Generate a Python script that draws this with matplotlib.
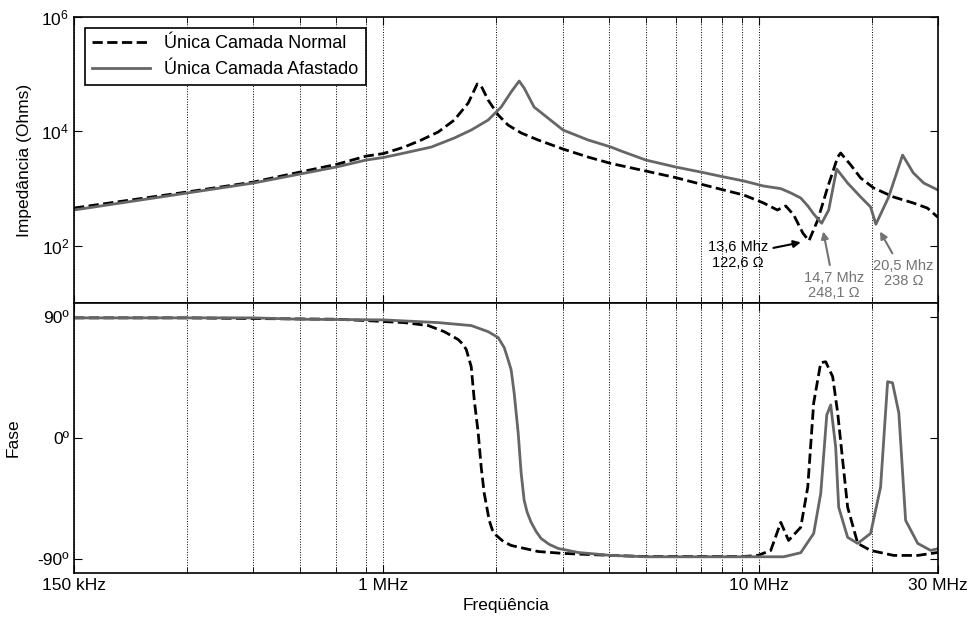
import numpy as np
import matplotlib
matplotlib.use('Agg')
import matplotlib.pyplot as plt
from matplotlib.ticker import FixedLocator, NullFormatter

plt.rcParams['font.family'] = ['Liberation Sans', 'DejaVu Sans']
plt.rcParams['mathtext.default'] = 'regular'

# frequencies in MHz, impedance in Ohms, phase in degrees
freq_normal = [0.15, 0.3, 0.45, 0.6, 0.75, 0.9, 1.0, 1.137, 1.262, 1.40, 1.545, 1.683,
               1.778, 1.822, 1.901, 2.022, 2.149, 2.328, 2.583, 3.01, 3.51, 4.04, 5.0,
               6.0, 7.0, 8.07, 9.12, 10.3, 11.2, 11.8, 12.39, 13.1, 13.6, 14.35, 15.26,
               16.22, 16.52, 17.57, 18.68, 20.23, 22.86, 25.8, 28.1, 30.0]
z_normal = [458, 873, 1300, 1950, 2650, 3700, 4100, 5330, 7080, 9770, 15800, 31400,
            67500, 62200, 35400, 19400, 12900, 9400, 7080, 4920, 3560, 2750, 2030,
            1560, 1200, 945, 773, 560, 423, 497, 345, 167, 122.6, 282, 1065,
            3560, 4190, 2590, 1530, 1025, 713, 560, 458, 315]

freq_afast = [0.15, 0.3, 0.45, 0.6, 0.75, 0.9, 1.0, 1.137, 1.342, 1.545, 1.714, 1.901,
              2.06, 2.189, 2.30, 2.371, 2.52, 2.745, 3.01, 3.51, 4.04, 4.30, 5.0, 6.0,
              7.0, 8.07, 9.12, 10.3, 11.44, 12.17, 12.93, 13.5, 14.0, 14.7, 15.35,
              16.12, 17.24, 18.68, 19.85, 20.5, 22.17, 24.15, 25.8, 27.5, 30.0]
z_afast = [423, 838, 1250, 1800, 2390, 3160, 3500, 4190, 5330, 7670, 10570, 15800,
           26700, 48900, 76000, 57400, 26700, 17100, 10570, 7080, 5330, 4540, 3160, 2390,
           1950, 1600, 1360, 1110, 1000, 840, 685, 500, 360, 248.1, 423,
           2200, 1250, 713, 477, 238, 713, 3860, 1875, 1250, 945]

fph_normal = [0.15, 0.3, 0.45, 0.75, 0.9, 1.0, 1.137, 1.317, 1.452, 1.516, 1.583, 1.632,
              1.663, 1.714, 1.746, 1.789, 1.822, 1.856, 1.914, 1.95, 1.998, 2.085, 2.189,
              2.583, 3.01, 4.04, 5.0, 7.0, 9.12, 9.94, 10.76, 11.44, 12.0, 12.93, 13.5,
              14.0, 14.62, 15.07, 15.73, 16.22, 16.72, 17.24, 18.34, 19.85, 22.86, 26.5,
              30.0]
ph_normal = [89, 89, 88.5, 88, 87, 86.3, 85.5, 83.3, 78.8, 75.9, 72.9, 69.2,
             65.5, 52.8, 28.3, 3.7, -21.6, -40.9, -61.0, -68.0, -72.1, -76.6, -79.6,
             -84.1, -85.5, -87.0, -87.8, -87.8, -87.8, -87.0, -83.3, -62.5, -75.9, -66.2,
             -36.4, 26.0, 55.8, 56.5, 45.4, 18.6, -16.4, -51.3, -78.1, -83.3, -87.0,
             -87.0, -84.8]

fph_afast = [0.15, 0.45, 0.6, 1.0, 1.4, 1.714, 1.901, 1.961, 2.022, 2.099, 2.136, 2.189,
             2.23, 2.286, 2.328, 2.371, 2.415, 2.475, 2.551, 2.63, 2.765, 2.92, 3.30,
             4.04, 5.0, 8.0, 11.65, 12.93, 14.0, 14.62, 15.17, 15.54, 16.02, 16.32,
             17.24, 18.34, 19.85, 21.1, 22.03, 22.7, 23.6, 24.6, 26.5, 28.7, 30.0]
ph_afast = [89, 89, 88, 87.5, 85.5, 83.3, 78.8, 76.6, 74.4, 66.9, 60.3, 50.6,
            33.5, 3.7, -26.0, -46.1, -55.0, -62.5, -69.2, -74.4, -78.8, -81.8, -84.8,
            -87.0, -88, -88, -88, -85, -70.7, -41, 17.1, 24.5, -6.7, -51.3,
            -73.6, -78.1, -70.7, -36.4, 41.7, 40.9, 18.6, -61, -78.1, -83.3, -82]

labels = ['Única Camada Normal', 'Única Camada Afastado']
xtick_pos = [150e3, 1e6, 10e6, 30e6]
xtick_labels = ['150 kHz', '1 MHz', '10 MHz', '30 MHz']
minor_pos = [300e3, 450e3, 600e3, 750e3, 900e3, 2e6, 3e6, 4e6, 5e6, 6e6, 7e6, 8e6, 9e6, 20e6]

gray = '#666666'
agray = '#737373'

fig = plt.figure(figsize=(9.74, 6.23), dpi=100)
ax1 = fig.add_axes([0.076, 0.5136, 0.887, 0.4591])
ax2 = fig.add_axes([0.076, 0.0803, 0.887, 0.4333], sharex=ax1)

mhz = lambda v: np.array(v) * 1e6

ax1.loglog(mhz(freq_normal), z_normal, 'k--', lw=2, label=labels[0])
ax1.loglog(mhz(freq_afast), z_afast, '-', color=gray, lw=2, label=labels[1])
ax2.semilogx(mhz(fph_normal), ph_normal, 'k--', lw=2)
ax2.semilogx(mhz(fph_afast), ph_afast, '-', color=gray, lw=2)

ax1.set_ylim(1e1, 1e6)
ax1.set_yticks([1e2, 1e4, 1e6])
ax1.yaxis.set_minor_locator(FixedLocator([]))
ax2.set_ylim(-100, 100)
ax2.set_yticks([-90, 0, 90])
ax2.set_yticklabels(['-90º', '0º', '90º'])
ax2.set_xlim(150e3, 30e6)
ax2.set_xticks(xtick_pos)
ax2.set_xticklabels(xtick_labels)
ax2.xaxis.set_minor_locator(FixedLocator(minor_pos))
ax2.xaxis.set_minor_formatter(NullFormatter())

for ax in (ax1, ax2):
    ax.tick_params(which='both', direction='in', top=True, right=True, labelsize=12.5)
    ax.tick_params(which='major', length=6)
    ax.tick_params(which='minor', length=4)
    ax.grid(True, axis='x', which='both', color='k', linestyle=':', linewidth=0.7)
    for s in ax.spines.values():
        s.set_linewidth(1.2)
plt.setp(ax1.get_xticklabels(), visible=False)

ax1.set_ylabel('Impedância (Ohms)', fontsize=12.5, labelpad=7)
ax2.set_ylabel('Fase', fontsize=12.5, labelpad=12)
ax2.set_xlabel('Freqüência', fontsize=12.5, labelpad=4)

leg = ax1.legend(loc='upper left', fontsize=13, fancybox=False, framealpha=1,
                 edgecolor='k', handlelength=3.2, borderaxespad=0.6)
leg.get_frame().set_linewidth(1.2)

ax1.annotate('13,6 Mhz\n122,6 Ω', xy=(13.6e6, 122.6), xytext=(8.79e6, 69),
             ha='center', va='center', fontsize=10.5, color='k', linespacing=1.1,
             arrowprops=dict(arrowstyle='-|>', color='k', lw=1.5, shrinkB=6))
ax1.annotate('14,7 Mhz\n248,1 Ω', xy=(14.7e6, 248.1), xytext=(15.83e6, 20.6),
             ha='center', va='center', fontsize=10.5, color=agray, linespacing=1.1,
             arrowprops=dict(arrowstyle='-|>', color=agray, lw=1.5, shrinkB=6))
ax1.annotate('20,5 Mhz\n238 Ω', xy=(20.5e6, 238), xytext=(24.3e6, 33.4),
             ha='center', va='center', fontsize=10.5, color=agray, linespacing=1.1,
             arrowprops=dict(arrowstyle='-|>', color=agray, lw=1.5, shrinkB=6))

plt.savefig('out.png', dpi=100)
